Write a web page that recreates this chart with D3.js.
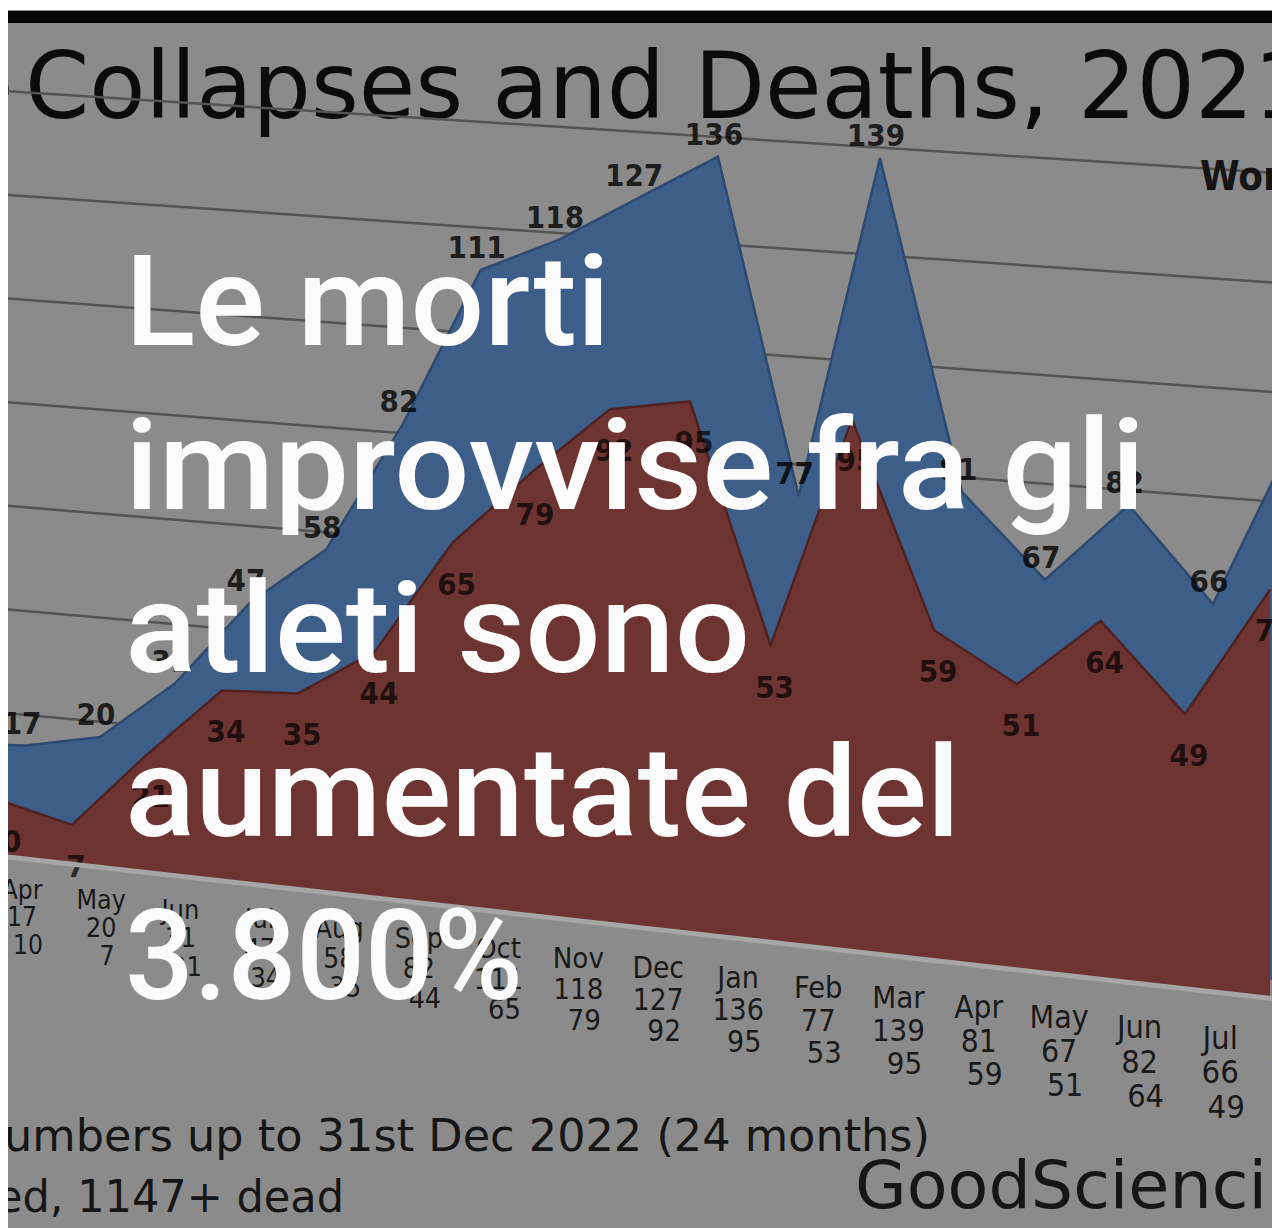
<!DOCTYPE html>
<html><head><meta charset="utf-8">
<script src="https://cdn.jsdelivr.net/npm/d3@7/dist/d3.min.js"></script>
<style>
html,body{margin:0;padding:0;background:#fff;overflow:hidden}
svg{display:block}
</style></head>
<body>
<svg id="chart" width="1272" height="1228"></svg>
<script>
// ---- data ----
const months = ["Mar","Apr","May","Jun","Jul","Aug","Sep","Oct","Nov","Dec","Jan","Feb","Mar","Apr","May","Jun","Jul","Aug"];
const collapsesAndDeaths = [16,17,20,31,47,58,82,111,118,127,136,77,139,81,67,82,66,99];
const deaths = [11,10,7,21,34,35,44,65,79,92,95,53,95,59,51,64,49,73];
const gridValues = [20,40,60,80,100,120,140];
const headline = ["Le morti","improvvise fra gli","atleti sono","aumentate del","3.800%"];
const titleHead = "e";
const titleText = "Collapses and Deaths, 2021";
const legendText = "Wor";
const footLines = ["umbers up to 31st Dec 2022 (24 months)", "ed, 1147+ dead"];
const brandText = "GoodScienci";

// ---- layout ----
const W = 1272, H = 1228;
const svg = d3.select("#chart");
const n = months.length;
const idx = d3.range(n);

const u = d3.scalePoint().domain(idx).range([-1, n - 2]);
const v = d3.scaleLinear().domain([0, 140]).range([0, 784]);
// perspective of the photographed 3D chart
const colX = t => -1.9 + 73.5 * t + 0.375 * t * t;
const floorY = x => 856 + 0.112 * x;
const DDX = 28, DDY = -15;
const pt = (i, val, depth) => {
  const x0 = colX(u(i));
  return [x0 + depth * DDX, floorY(x0) - v(val) + depth * DDY];
};
const wallBase = d3.scaleLinear().domain([0, W]).range([816, 940]);
const wallK = d3.scaleLinear().domain([0, W]).range([5.18 / 5.6, 5.48 / 5.6]);
const wallY = (x, g) => wallBase(x) - v(g) * wallK(x);
const labX = t => 22 + 79.12 * t + 0.0506 * t * t;
const labBase = x => 896 + 0.125 * x;
const labSize = x => 26 + 0.0055 * x;

const defs = svg.append("defs");
defs.append("clipPath").attr("id", "photo")
  .append("rect").attr("x", 8).attr("y", 10).attr("width", W - 8).attr("height", H - 10);

const g = svg.append("g").attr("clip-path", "url(#photo)");
g.append("rect").attr("x", 8).attr("y", 10).attr("width", W - 8).attr("height", H - 10).attr("fill", "#8b8b8b");
// black top bar
g.append("rect").attr("x", 8).attr("y", 11).attr("width", W - 8).attr("height", 12).attr("fill", "#060606");

// title
const titleG = g.append("g").attr("font-family", "DejaVu Sans").attr("font-size", 92).attr("fill", "#0b0b0b");
titleG.append("text").attr("x", -43).attr("y", 118).text(titleHead);
titleG.append("text").attr("x", 25).attr("y", 118)
  .attr("textLength", 1287).attr("lengthAdjust", "spacing").text(titleText);

// gridlines on back wall
g.append("g").selectAll("line").data(gridValues).join("line")
  .attr("x1", 0).attr("x2", W)
  .attr("y1", d => wallY(0, d)).attr("y2", d => wallY(W, d))
  .attr("stroke", "#545454").attr("stroke-width", 2.5);

g.append("text").attr("x", 1200).attr("y", 190)
  .attr("font-family", "DejaVu Sans Condensed").attr("font-weight", "bold")
  .attr("font-size", 40).attr("fill", "#151515").text(legendText);

// blue series (back row)
const areaFor = (series, depth) => d3.area()
  .x(i => pt(i, series[i], depth)[0])
  .y0(i => pt(i, 0, depth)[1])
  .y1(i => pt(i, series[i], depth)[1]);
const lineFor = (series, depth) => d3.line()
  .x(i => pt(i, series[i], depth)[0])
  .y(i => pt(i, series[i], depth)[1]);

g.append("path").attr("d", areaFor(collapsesAndDeaths, 1)(idx)).attr("fill", "#3c5e88");
g.append("path").attr("d", lineFor(collapsesAndDeaths, 1)(idx)).attr("fill", "none")
  .attr("stroke", "#2d4a70").attr("stroke-width", 2.5);

// blue labels
g.append("g").selectAll("text").data(idx).join("text")
  .attr("x", i => pt(i, collapsesAndDeaths[i], 1)[0] - 4)
  .attr("y", i => pt(i, collapsesAndDeaths[i], 1)[1] - 12)
  .attr("text-anchor", "middle")
  .attr("font-family", "DejaVu Sans Condensed").attr("font-weight", "bold")
  .attr("font-size", 31).attr("fill", "#000").attr("fill-opacity", 0.78)
  .text(i => collapsesAndDeaths[i]);

// red series (front row)
g.append("path").attr("d", areaFor(deaths, 0)(idx)).attr("fill", "#6d3432");
g.append("path").attr("d", lineFor(deaths, 0)(idx)).attr("fill", "none")
  .attr("stroke", "#502322").attr("stroke-width", 2.5);

g.append("g").selectAll("text").data(idx).join("text")
  .attr("x", i => pt(i, deaths[i], 0)[0] + 4)
  .attr("y", i => pt(i, deaths[i], 0)[1] + 52)
  .attr("text-anchor", "middle")
  .attr("font-family", "DejaVu Sans Condensed").attr("font-weight", "bold")
  .attr("font-size", 31).attr("fill", "#000").attr("fill-opacity", 0.7)
  .text(i => deaths[i]);

// floor front edge
g.append("line").attr("x1", 0).attr("x2", W).attr("y1", floorY(0)).attr("y2", floorY(W))
  .attr("stroke", "#a6a6a6").attr("stroke-width", 5);

// category labels
const cat = g.append("g").attr("font-family", "DejaVu Sans Condensed")
  .attr("fill", "#1a1a1a").attr("text-anchor", "middle");
idx.forEach(i => {
  const cx = labX(u(i));
  const fs = labSize(cx);
  const by = labBase(cx);
  [months[i], collapsesAndDeaths[i], deaths[i]].forEach((t, k) => {
    cat.append("text").attr("x", cx + (k === 2 ? 6 : 0)).attr("y", by + k * fs * 1.06)
      .attr("font-size", fs).text(t);
  });
});

// footer
g.append("text").attr("x", 4).attr("y", 1151)
  .attr("font-family", "DejaVu Sans").attr("font-size", 44).attr("fill", "#161616")
  .attr("textLength", 926).attr("lengthAdjust", "spacingAndGlyphs").text(footLines[0]);
g.append("text").attr("x", -4).attr("y", 1212)
  .attr("font-family", "DejaVu Sans").attr("font-size", 44).attr("fill", "#161616")
  .attr("textLength", 348).attr("lengthAdjust", "spacingAndGlyphs").text(footLines[1]);
g.append("text").attr("x", 855).attr("y", 1208)
  .attr("font-family", "DejaVu Sans").attr("font-size", 66).attr("fill", "#161616")
  .attr("textLength", 412).attr("lengthAdjust", "spacingAndGlyphs").text(brandText);

// headline overlay
const headW = [485, 1020, 625, 835, 398];
svg.append("g").selectAll("text").data(headline).join("text")
  .attr("x", 125).attr("y", (d, i) => 345 + i * 163.5)
  .attr("font-family", "Roboto").attr("font-weight", 500).attr("font-size", 127)
  .attr("fill", "#fbfbfb")
  .attr("textLength", (d, i) => headW[i]).attr("lengthAdjust", "spacingAndGlyphs")
  .text(d => d);
</script>
</body></html>
